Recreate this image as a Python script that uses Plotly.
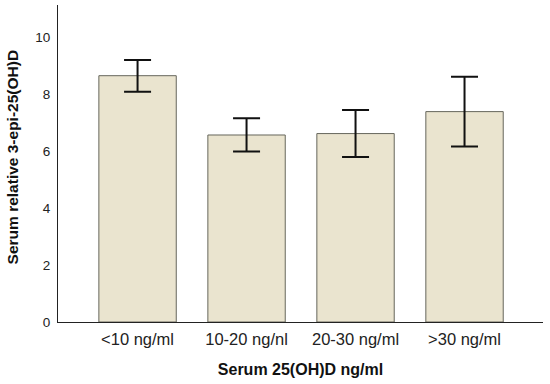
import plotly.graph_objects as go

categories = ["<10 ng/ml", "10-20 ng/nl", "20-30 ng/ml", ">30 ng/ml"]
means = [8.64, 6.56, 6.61, 7.38]
err_upper = [0.55, 0.59, 0.83, 1.22]
err_lower = [0.56, 0.58, 0.82, 1.22]
y_ticks = [0, 2, 4, 6, 8, 10]

fig = go.Figure()
fig.add_trace(go.Bar(
    x=list(range(len(categories))),
    y=means,
    width=0.71,
    marker=dict(color="#EAE4CF", line=dict(color="#66665C", width=1)),
    error_y=dict(type="data", symmetric=False, array=err_upper, arrayminus=err_lower,
                 color="#111111", thickness=2, width=13.5),
    hoverinfo="skip",
))

font_family = "Liberation Sans, Arial, sans-serif"
fig.update_layout(
    width=550, height=384,
    margin=dict(l=58, r=7, t=5, b=62),
    paper_bgcolor="white", plot_bgcolor="white",
    showlegend=False,
    font=dict(family=font_family, size=16, color="#222222"),
    xaxis=dict(
        tickmode="array", tickvals=list(range(len(categories))), ticktext=categories,
        tickfont=dict(size=16.5, color="#222222"),
        range=[-0.73, 3.72], showline=True, linecolor="#222222", linewidth=1,
        showgrid=False, zeroline=False, ticks="", automargin=False,
        ticklabelstandoff=2,
        title=dict(text="<b>Serum 25(OH)D ng/ml</b>", font=dict(size=16, color="#111111"), standoff=17),
    ),
    yaxis=dict(
        tickvals=y_ticks, range=[0, 11.12], showline=True, linecolor="#222222", linewidth=1,
        tickfont=dict(size=13.5, color="#222222"),
        showgrid=False, zeroline=False, ticks="", automargin=False,
        ticklabelstandoff=4,
    ),
    annotations=[dict(
        text="<b>Serum relative 3-epi-25(OH)D</b>", textangle=-90,
        xref="paper", yref="paper", x=-0.094, y=0.5205,
        xanchor="center", yanchor="middle", showarrow=False,
        font=dict(size=15.5, color="#111111"),
    )],
)

fig.write_html("out.html", config={"displayModeBar": False},
               post_script="document.body.style.margin='0';")
